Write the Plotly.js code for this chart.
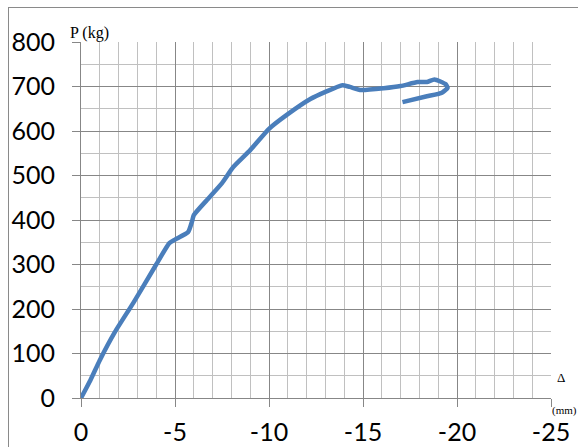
<!DOCTYPE html>
<html>
<head>
<meta charset="utf-8">
<script src="https://cdn.plot.ly/plotly-3.0.1.min.js"></script>
<style>
html,body{margin:0;padding:0;background:#fff;}
#wrap{position:relative;width:578px;height:447px;overflow:hidden;}
#chart{width:578px;height:447px;}
#frame{position:absolute;left:8px;top:7px;width:700px;height:600px;border-left:1px solid #8a8a8a;border-top:1px solid #8a8a8a;pointer-events:none;}
</style>
</head>
<body>
<div id="wrap"><div id="chart"></div><div id="frame"></div></div>
<script>
// Deflection Δ (mm) and load P (kg)
var deflection = [0, -0.5, -1.0, -1.8, -2.8, -4.0, -4.7, -5.0, -5.7, -5.9, -6.0, -6.7, -7.5, -8.1, -9.0, -10.0, -11.0, -12.2, -13.0, -13.9, -14.3, -14.9, -16.1, -17.0, -17.9, -18.4, -18.8, -19.4, -19.5, -19.2, -18.4, -17.1];
var load = [0, 40, 85, 148, 215, 300, 348, 356, 373, 396, 411, 445, 483, 519, 557, 605, 638, 672, 688, 703, 699, 692, 696, 701, 710, 710, 716, 705, 697, 686, 678, 665];
var xTicks = [0, -5, -10, -15, -20, -25];
var yTicks = [0, 100, 200, 300, 400, 500, 600, 700, 800];

var tickFont = {family: 'Lato', size: 25, color: '#000'};
var serif = '"Liberation Serif"';

var trace = {
  x: deflection, y: load, type: 'scatter', mode: 'lines',
  line: {color: '#4a7ebb', width: 4.5, shape: 'spline', smoothing: 0.5},
  hoverinfo: 'skip'
};

var layout = {
  width: 578, height: 447,
  margin: {l: 81, r: 27, t: 41.5, b: 49, pad: 0},
  paper_bgcolor: '#fff', plot_bgcolor: '#fff',
  showlegend: false,
  xaxis: {
    range: [0, -25], tickvals: xTicks, ticktext: xTicks.map(String),
    showgrid: true, gridcolor: '#878787', gridwidth: 1,
    minor: {dtick: 1, showgrid: true, gridcolor: '#c0c0c0', gridwidth: 1, ticks: ''},
    showline: true, linecolor: '#878787', linewidth: 1,
    ticks: 'outside', ticklen: 8, tickcolor: '#878787', tickwidth: 1,
    tickfont: tickFont, zeroline: false, ticklabelstandoff: 4, fixedrange: true
  },
  yaxis: {
    range: [0, 800], tickvals: yTicks, ticktext: yTicks.map(String),
    showgrid: true, gridcolor: '#878787', gridwidth: 1,
    minor: {dtick: 50, showgrid: true, gridcolor: '#c0c0c0', gridwidth: 1, ticks: ''},
    showline: true, linecolor: '#878787', linewidth: 1,
    ticks: 'outside', ticklen: 8, tickcolor: '#878787', tickwidth: 1,
    tickfont: tickFont, zeroline: false, ticklabelstandoff: 12, fixedrange: true
  },
  annotations: [
    {text: 'P (kg)', xref: 'paper', yref: 'paper', x: -0.027, y: 1.0, xanchor: 'left', yanchor: 'bottom', yshift: -2, showarrow: false,
     font: {family: serif, size: 16, color: '#000'}},
    {text: 'Δ', xref: 'paper', yref: 'paper', x: 1.0, y: 0.03, xanchor: 'left', yanchor: 'bottom', xshift: 4, showarrow: false,
     font: {family: serif, size: 13, color: '#000'}},
    {text: '(mm)', xref: 'paper', yref: 'paper', x: 1.0, y: 0, xanchor: 'center', yanchor: 'top', yshift: -5, xshift: 13, borderpad: 0, showarrow: false,
     font: {family: serif, size: 11, color: '#000'}}
  ]
};

Plotly.newPlot('chart', [trace], layout, {displayModeBar: false, staticPlot: true});
</script>
</body>
</html>
